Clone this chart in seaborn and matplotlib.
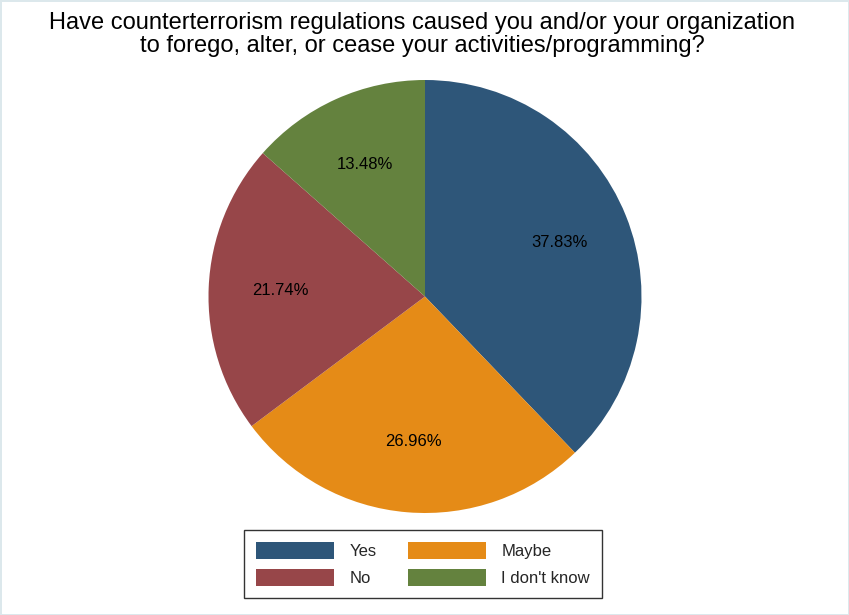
import matplotlib
matplotlib.use('Agg')
import matplotlib.pyplot as plt
import seaborn as sns

# data
answers = ['Yes', 'Maybe', 'No', "I don't know"]
shares = [37.83, 26.96, 21.74, 13.48]
slice_colors = ['#2e5679', '#e58b17', '#974649', '#64823e']

title = ('Have counterterrorism regulations caused you and/or your organization\n'
         'to forego, alter, or cease your activities/programming?')


def myplot():
	sns.set_theme(style='white')
	plt.rcParams['font.family'] = ['Liberation Sans', 'DejaVu Sans']

	fig = plt.figure(figsize=(8.49, 6.15), dpi=100)
	fig.patch.set_facecolor('white')
	fig.patch.set_edgecolor('#dce8ec')
	fig.patch.set_linewidth(2)

	ax = fig.add_axes([208 / 849, 1 - 513 / 615, 434 / 849, 433 / 615])
	wedges, texts = ax.pie(shares, colors=slice_colors, startangle=90,
						   counterclock=False, radius=1,
						   labels=['%.2f%%' % s for s in shares],
						   labeldistance=0.67,
						   wedgeprops=dict(linewidth=0),
						   textprops=dict(fontsize=12, color='black'))
	for t in texts:
		t.set_ha('center')
		t.set_va('center')
	ax.set_xlim(-1, 1)
	ax.set_ylim(-1, 1)
	ax.set_aspect('equal')
	ax.axis('off')

	fig.text(0.497, 0.981, title, ha='center', va='top', fontsize=17,
			 linespacing=1.08, color='black')

	# legend fills column by column, so reorder to get Yes/Maybe on the top row
	order = [0, 2, 1, 3]
	leg = fig.legend([wedges[i] for i in order], [answers[i] for i in order],
					 ncol=2, loc='upper center',
					 bbox_to_anchor=(423 / 849, 1 - 530 / 615),
					 fontsize=12, frameon=True, fancybox=False,
					 edgecolor='black', handlelength=4.7, handleheight=1.2,
					 handletextpad=0.9, columnspacing=1.9, labelspacing=0.62,
					 borderpad=0.7, borderaxespad=0)
	leg.get_frame().set_linewidth(1)

	plt.savefig('out.png', dpi=100)


myplot()
